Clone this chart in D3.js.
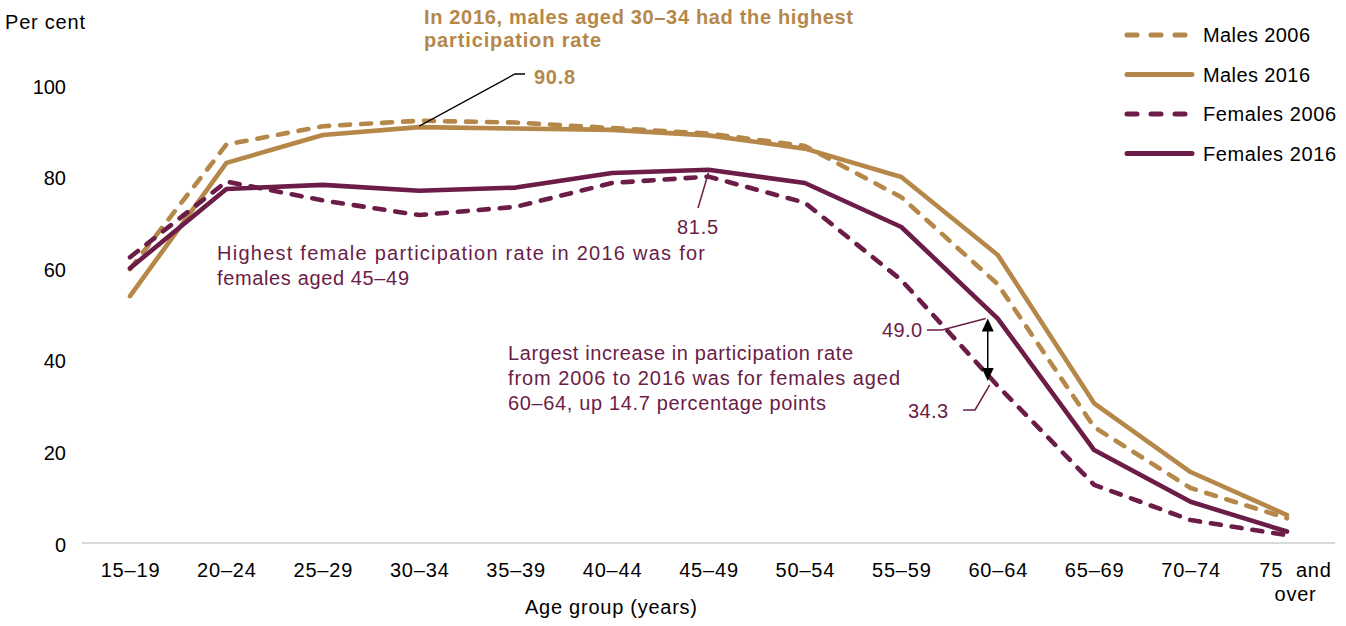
<!DOCTYPE html>
<html><head><meta charset="utf-8">
<script src="https://cdn.jsdelivr.net/npm/d3@7"></script>
<style>body{margin:0;background:#fff}svg{display:block;font-family:"Liberation Sans",Arial,sans-serif}</style>
</head><body><svg id="c" width="1346" height="626"></svg>
<script>
const categories = ["15–19","20–24","25–29","30–34","35–39","40–44","45–49","50–54","55–59","60–64","65–69","70–74","75 and over"];
const males2006   = [59.8, 87.0, 91.0, 92.2, 91.8, 90.6, 89.4, 86.7, 75.5, 56.5, 25.3, 12.0, 5.4];
const males2016   = [53.9, 83.0, 89.1, 90.8, 90.5, 90.2, 89.0, 86.1, 79.9, 62.9, 30.5, 15.5, 6.1];
const females2006 = [62.4, 78.9, 74.8, 71.6, 73.4, 78.6, 80.0, 74.3, 57.4, 34.3, 12.7, 5.0, 1.7];
const females2016 = [60.0, 77.3, 78.2, 76.9, 77.6, 80.8, 81.5, 78.6, 69.0, 49.0, 20.3, 9.0, 2.5];
const yTicks = [0, 20, 40, 60, 80, 100];
const seriesNames = ["Males 2006","Males 2016","Females 2006","Females 2016"];

const TAN = "#b5884a", PURPLE = "#6b1c47";
const FS = 20;
const seriesList = [
  {name: seriesNames[0], values: males2006, color: TAN, dash: true},
  {name: seriesNames[1], values: males2016, color: TAN, dash: false},
  {name: seriesNames[2], values: females2006, color: PURPLE, dash: true},
  {name: seriesNames[3], values: females2016, color: PURPLE, dash: false}
];

const svg = d3.select("#c");
const x = d3.scalePoint().domain(categories).range([130, 1287]);
const y = d3.scaleLinear().domain([0, 100]).range([543, 85]);
const step = x.step();

function txt(xp, yp, s, opts = {}) {
  const t = svg.append("text").attr("x", xp).attr("y", yp).attr("font-size", opts.size || FS)
    .attr("fill", opts.fill || "#000").text(s);
  if (opts.bold) t.attr("font-weight", "bold");
  if (opts.anchor) t.attr("text-anchor", opts.anchor);
  if (opts.len) t.attr("textLength", opts.len).attr("lengthAdjust", "spacing");
  return t;
}

// baseline
svg.append("line").attr("x1", x(categories[0]) - step/2).attr("x2", x(categories[12]) + step/2)
  .attr("y1", y(0)).attr("y2", y(0)).attr("stroke", "#d9d9d9").attr("stroke-width", 2);

// y axis
const yAxis = svg.append("g").attr("transform", "translate(66,0)")
  .call(d3.axisLeft(y).tickValues(yTicks).tickSize(0).tickPadding(0));
yAxis.select(".domain").remove();
yAxis.selectAll("text").attr("font-size", FS).attr("fill", "#000").attr("font-family", "Liberation Sans, Arial, sans-serif").attr("dy", "0.4em");

// x axis
const xAxis = svg.append("g").attr("transform", `translate(0,${y(0)})`)
  .call(d3.axisBottom(x).tickSize(0).tickPadding(0));
xAxis.select(".domain").remove();
xAxis.selectAll("text").each(function(d) {
  const t = d3.select(this).text("").attr("font-size", FS).attr("fill", "#000")
    .attr("font-family", "Liberation Sans, Arial, sans-serif").attr("dy", null).attr("y", 34)
    .attr("letter-spacing", "0.8px");
  if (d === "75 and over") {
    t.append("tspan").attr("x", 0).attr("dx", 8).style("white-space", "pre").text("75  and");
    t.append("tspan").attr("x", 0).attr("dx", 8).attr("dy", 24).text("over");
  } else t.text(d);
});

txt(5, 29, "Per cent", {len: 80});
txt(525, 614, "Age group (years)", {len: 172});

// lines
const line = d3.line().x((d, i) => x(categories[i])).y(d => y(d));
seriesList.forEach(s => {
  svg.append("path").datum(s.values).attr("d", line).attr("fill", "none")
    .attr("stroke", s.color).attr("stroke-width", 4.6)
    .attr("stroke-linecap", "round").attr("stroke-linejoin", "round")
    .attr("stroke-dasharray", s.dash ? "10,11" : null);
});

// legend
seriesList.forEach((s, i) => {
  const yy = 35 + i * 39.5;
  svg.append("line").attr("x1", 1127).attr("x2", s.dash ? 1186 : 1192).attr("y1", yy).attr("y2", yy)
    .attr("stroke", s.color).attr("stroke-width", 5).attr("stroke-linecap", "round")
    .attr("stroke-dasharray", s.dash ? "10,14" : null);
  txt(1203, yy + 7, s.name, {len: s.name.startsWith("Males") ? 107 : 133});
});

// annotations - males
const iM = categories.indexOf("30–34");
txt(424, 24, "In 2016, males aged 30–34 had the highest", {bold: true, fill: TAN, len: 429});
txt(424, 47, "participation rate", {bold: true, fill: TAN, len: 177});
svg.append("polyline").attr("points", [[x(categories[iM]), y(males2016[iM]) - 1],[515, 74],[525, 74]].join(" "))
  .attr("fill", "none").attr("stroke", "#000").attr("stroke-width", 1.3);
txt(534, 84, d3.format(".1f")(males2016[iM]), {bold: true, fill: TAN, len: 41});

// annotations - females 45-49
const iF = categories.indexOf("45–49");
svg.append("line").attr("x1", x(categories[iF])).attr("y1", y(females2016[iF]) + 3).attr("x2", 698).attr("y2", 208)
  .attr("stroke", PURPLE).attr("stroke-width", 1.5);
txt(677, 234, d3.format(".1f")(females2016[iF]), {fill: PURPLE, len: 41});
txt(217, 260, "Highest female participation rate in 2016 was for", {fill: PURPLE, len: 488});
txt(217, 285, "females aged 45–49", {fill: PURPLE, len: 192});

// annotations - 60-64
const i6 = categories.indexOf("60–64");
[["Largest increase in participation rate", 345], ["from 2006 to 2016 was for females aged", 392], ["60–64, up 14.7 percentage points", 318]]
  .forEach((t, k) => txt(508, 360 + k * 25, t[0], {fill: PURPLE, len: t[1]}));
const ax = x(categories[i6]) - 10;
svg.append("polyline").attr("points", [[927, 330],[942, 330],[x(categories[i6]) - 12, y(females2016[i6])]].join(" "))
  .attr("fill", "none").attr("stroke", PURPLE).attr("stroke-width", 1.5);
txt(882, 337, d3.format(".1f")(females2016[i6]), {fill: PURPLE, len: 40});
svg.append("polyline").attr("points", [[963, 410],[975, 410],[x(categories[i6]) - 8, y(females2006[i6]) - 1]].join(" "))
  .attr("fill", "none").attr("stroke", PURPLE).attr("stroke-width", 1.5);
txt(908, 418, d3.format(".1f")(females2006[i6]), {fill: PURPLE, len: 40});
// double arrow
const yTop = y(females2016[i6]), yBot = y(females2006[i6]) - 5;
svg.append("line").attr("x1", ax).attr("x2", ax).attr("y1", yTop + 10).attr("y2", yBot - 10).attr("stroke", "#000").attr("stroke-width", 1.5);
svg.append("path").attr("d", `M${ax},${yTop} L${ax-6},${yTop+13} L${ax+6},${yTop+13}Z`).attr("fill", "#000");
svg.append("path").attr("d", `M${ax},${yBot} L${ax-6},${yBot-13} L${ax+6},${yBot-13}Z`).attr("fill", "#000");
</script></body></html>
